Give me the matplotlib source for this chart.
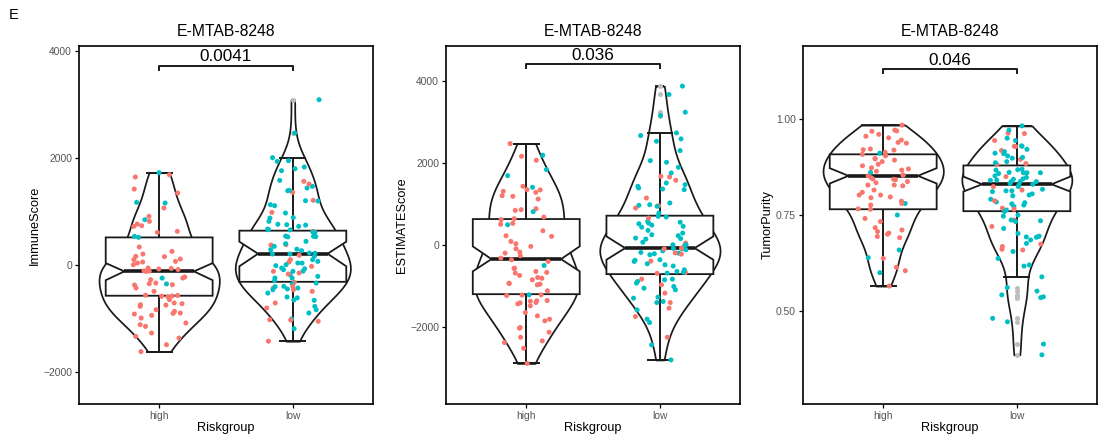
import numpy as np
import matplotlib.pyplot as plt
from matplotlib.patches import Polygon

plt.rcParams['font.family'] = ['Liberation Sans', 'DejaVu Sans']

RED = '#F8766D'
TEAL = '#00BFC4'
FLIER = '#BEBEBE'

groups = ['high', 'low']
dataset = 'E-MTAB-8248'
ylabels = ['ImmuneScore', 'ESTIMATEScore', 'TumorPurity']
pvalues = ['0.0041', '0.036', '0.046']

# ImmuneScore
immune_high_red = [1682, 1639, 1414, 1340, 1059, 903, 810, 760, 729, 716, 623, 604, 330, 249, 199,
                   156, 150, 106, 94, 62, 50, 31, 0, -62, -70, -80, -90, -115, -120, -125, -230,
                   -249, -280, -343, -355, -374, -380, -436, -498, -570, -575, -585, -590, -600,
                   -654, -716, -729, -748, -755, -779, -841, -872, -903, -910, -922, -947, -997,
                   -1090, -1121, -1153, -1277, -1340, -1371, -1495, -1625]
immune_high_teal = [1720, 1165, 1153, 841, 530, 511, -250, -360]
immune_low_red = [1558, 1508, 1352, 1203, 978, 623, 374, 368, 175, 94, 50, -31, -124, -155, -174,
                  -330, -405, -436, -467, -498, -716, -810, -1028, -1035, -1059, -1430]
immune_low_teal = [3084, 2461, 2000, 1944, 1931, 1826, 1794, 1757, 1576, 1464, 1433, 1390, 1383,
                   1196, 1190, 1122, 1103, 966, 880, 872, 810, 755, 748, 740, 717, 667, 654, 650,
                   610, 604, 535, 530, 525, 520, 436, 393, 343, 290, 281, 262, 218, 215, 200, 200,
                   156, 94, 62, 31, 30, 0, -18, -62, -75, -93, -120, -124, -187, -218, -249, -250,
                   -293, -343, -361, -405, -410, -436, -454, -467, -530, -604, -620, -660, -666,
                   -779, -841, -903, -1015, -1196]

# ESTIMATEScore
estimate_high_red = [2472, 2162, 2064, 1428, 1346, 1340, 1305, 1281, 1199, 1183, 1118, 881, 857,
                     840, 677, 636, 612, 522, 500, 342, 220, 204, 81, 24, -41, -98, -180, -204,
                     -269, -326, -367, -408, -571, -580, -653, -677, -693, -751, -800, -820, -857,
                     -938, -950, -963, -979, -1126, -1224, -1230, -1240, -1363, -1370, -1380,
                     -1412, -1420, -1444, -1493, -1657, -1738, -1820, -1860, -2024, -2040, -2138,
                     -2261, -2350, -2391, -2530, -2900]
estimate_high_teal = [2187, 1836, 1689, 1403, 808, 489, -506, -1224]
estimate_low_red = [1672, 1656, 1575, 1142, 955, 897, 653, 41, -82, -100, -200, -230, -400, -677,
                    -700, -840, -979, -1183, -1412, -1550, -1754, -2260]
estimate_low_teal = [3876, 3672, 3239, 3158, 2733, 2668, 2587, 2529, 2301, 2056, 2015, 1893, 1754,
                     1509, 1469, 1428, 1387, 1362, 1346, 1020, 979, 963, 940, 775, 694, 677, 571,
                     550, 530, 514, 480, 449, 430, 351, 285, 244, 220, 163, 150, 139, 60, 0, 0,
                     -30, -90, -100, -122, -150, -188, -204, -220, -245, -367, -380, -408, -465,
                     -490, -520, -612, -653, -670, -694, -840, -857, -898, -938, -1020, -1061,
                     -1102, -1281, -1305, -1387, -1412, -1591, -1820, -1901, -2448, -2815]

# TumorPurity
purity_high_red = [0.984, 0.971, 0.969, 0.968, 0.960, 0.955, 0.951, 0.945, 0.939, 0.937, 0.922,
                   0.919, 0.920, 0.913, 0.908, 0.906, 0.904, 0.897, 0.896, 0.893, 0.889, 0.882,
                   0.878, 0.873, 0.867, 0.870, 0.864, 0.854, 0.854, 0.852, 0.847, 0.843, 0.844,
                   0.837, 0.834, 0.842, 0.828, 0.828, 0.826, 0.815, 0.809, 0.802, 0.802, 0.797,
                   0.795, 0.786, 0.776, 0.780, 0.766, 0.765, 0.741, 0.733, 0.717, 0.707, 0.711,
                   0.700, 0.703, 0.694, 0.691, 0.637, 0.614, 0.605, 0.565]
purity_high_teal = [0.911, 0.861, 0.780, 0.750, 0.659, 0.639, 0.600]
purity_low_red = [0.963, 0.962, 0.944, 0.928, 0.929, 0.918, 0.895, 0.884, 0.882, 0.850, 0.824,
                  0.815, 0.787, 0.768, 0.765, 0.737, 0.720, 0.674, 0.668, 0.659, 0.661]
purity_low_teal = [0.982, 0.971, 0.950, 0.944, 0.930, 0.929, 0.921, 0.915, 0.911, 0.910, 0.904,
                   0.900, 0.898, 0.889, 0.886, 0.869, 0.867, 0.868, 0.860, 0.860, 0.858, 0.861,
                   0.860, 0.852, 0.848, 0.843, 0.844, 0.837, 0.841, 0.837, 0.840, 0.837, 0.830,
                   0.832, 0.828, 0.824, 0.817, 0.811, 0.813, 0.813, 0.805, 0.802, 0.800, 0.791,
                   0.782, 0.779, 0.784, 0.776, 0.772, 0.763, 0.759, 0.750, 0.747, 0.737, 0.735,
                   0.733, 0.715, 0.702, 0.695, 0.692, 0.693, 0.694, 0.685, 0.676, 0.655, 0.637,
                   0.620, 0.617, 0.589, 0.561, 0.552, 0.542, 0.535, 0.537, 0.481, 0.472, 0.414,
                   0.386]

# box statistics per panel, [high, low]
box_whislo = [[-1625, -1430], [-2900, -2815], [0.565, 0.589]]
box_q1 = [[-580, -320], [-1208, -718], [0.765, 0.760]]
box_cilo = [[-290, -30], [-650, -367], [0.832, 0.811]]
box_med = [[-125, 205], [-351, -82], [0.852, 0.830]]
box_cihi = [[30, 430], [-40, 204], [0.872, 0.850]]
box_q3 = [[510, 636], [628, 710], [0.908, 0.879]]
box_whishi = [[1720, 2000], [2472, 2733], [0.984, 0.982]]

panels = [
    [(immune_high_red, immune_high_teal), (immune_low_red, immune_low_teal)],
    [(estimate_high_red, estimate_high_teal), (estimate_low_red, estimate_low_teal)],
    [(purity_high_red, purity_high_teal), (purity_low_red, purity_low_teal)],
]
ylims = [(-2604, 4088), (-3892, 4857), (0.258, 1.190)]
yticks = [[-2000, 0, 2000, 4000], [-2000, 0, 2000, 4000], [0.50, 0.75, 1.00]]
bracket_y = [3720, 4409, 1.130]
lefts = [0.0718, 0.4055, 0.7300]
ylabel_x = [-0.129, -0.129, -0.099]


def nrd0(x):
    iqr = np.subtract(*np.percentile(x, [75, 25]))
    return 0.9 * min(np.std(x, ddof=1), iqr / 1.34) * len(x) ** -0.2


def density(x):
    bw = nrd0(x)
    grid = np.linspace(x.min(), x.max(), 512)
    z = (grid[:, None] - x[None, :]) / bw
    d = np.exp(-0.5 * z ** 2).sum(1) / (len(x) * bw * np.sqrt(2 * np.pi))
    return grid, d


fig = plt.figure(figsize=(11, 4.41), dpi=100)
fig.text(0.008, 0.966, 'E', fontsize=10.5, ha='left', va='center')
rng = np.random.default_rng(11)

for k, panel in enumerate(panels):
    ax = fig.add_axes([lefts[k], 0.0839, 0.2673, 0.8118])
    values = [np.array(r + t, dtype=float) for r, t in panel]
    dens = [density(v) for v in values]
    dmax = max(d.max() for _, d in dens)

    for i, (v, (grid, d)) in enumerate(zip(values, dens)):
        pos = i + 1
        hw = 0.45 * d / dmax
        # violin outline
        ax.fill_betweenx(grid, pos - hw, pos + hw, facecolor='white', edgecolor='#1a1a1a',
                         linewidth=1.25, zorder=1)
        ax.hlines([grid[0], grid[-1]], pos - hw[[0, -1]], pos + hw[[0, -1]], color='#1a1a1a',
                  linewidth=1.25, zorder=1)

        lo, hi = box_whislo[k][i], box_whishi[k][i]
        q1, q3, med = box_q1[k][i], box_q3[k][i], box_med[k][i]
        cl, ch = box_cilo[k][i], box_cihi[k][i]
        # error bar whiskers
        ax.vlines(pos, lo, hi, color='#1a1a1a', linewidth=1.4, zorder=2)
        ax.hlines([lo, hi], pos - 0.1, pos + 0.1, color='#1a1a1a', linewidth=1.4, zorder=2)
        # notched box
        L, R, ind = pos - 0.4, pos + 0.4, 0.14
        box = Polygon([(L, q1), (R, q1), (R, cl), (R - ind, med), (R, ch), (R, q3),
                       (L, q3), (L, ch), (L + ind, med), (L, cl)], closed=True,
                      facecolor='white', edgecolor='#1a1a1a', linewidth=1.3, zorder=3)
        ax.add_patch(box)
        ax.hlines(med, L + ind, R - ind, color='#1a1a1a', linewidth=2.6, zorder=3)
        fliers = v[(v < lo) | (v > hi)]
        ax.scatter(np.full(len(fliers), pos), fliers, s=13, color=FLIER, linewidths=0, zorder=3)

        # jittered samples
        red, teal = panel[i]
        cols = np.array([RED] * len(red) + [TEAL] * len(teal))
        order = rng.permutation(len(v))
        xj = pos + rng.uniform(-0.2, 0.2, len(v))
        ax.scatter(xj[order], v[order], s=13, c=cols[order], linewidths=0, zorder=4)

    # significance bracket
    y0, y1 = ylims[k]
    tip = 0.014 * (y1 - y0)
    by = bracket_y[k]
    ax.plot([1, 1, 2, 2], [by - tip, by, by, by - tip], color='#1a1a1a', linewidth=1.4,
            solid_capstyle='butt', zorder=5)
    ax.text(1.5, by + 0.004 * (y1 - y0), pvalues[k], ha='center', va='bottom', fontsize=12.3)

    ax.set_xlim(0.4, 2.6)
    ax.set_ylim(y0, y1)
    ax.set_xticks([1, 2])
    ax.set_xticklabels(groups)
    ax.set_yticks(yticks[k])
    if k == 2:
        ax.set_yticklabels([f'{t:.2f}' for t in yticks[k]])
    ax.tick_params(length=3, width=0.9, pad=2, labelsize=7.4, labelcolor='#555555')
    for s in ax.spines.values():
        s.set_linewidth(1.2)
    ax.set_title(dataset, fontsize=11.3, pad=7)
    ax.set_xlabel('Riskgroup', fontsize=9.2)
    ax.set_ylabel(ylabels[k], fontsize=9.2)
    ax.xaxis.set_label_coords(0.5, -0.049)
    ax.yaxis.set_label_coords(ylabel_x[k], 0.5)

fig.savefig('out.png', dpi=100)
